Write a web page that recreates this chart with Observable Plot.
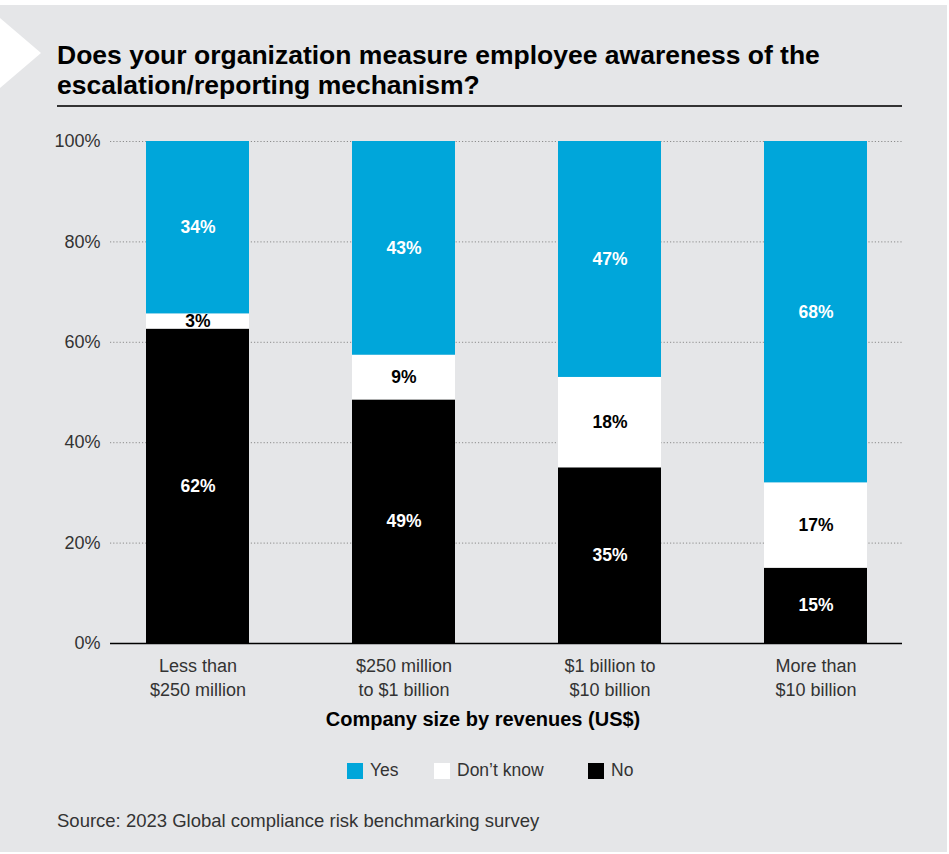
<!DOCTYPE html>
<html>
<head>
<meta charset="utf-8">
<script src="https://cdn.jsdelivr.net/npm/d3@7"></script>
<script src="https://cdn.jsdelivr.net/npm/@observablehq/plot@0.6"></script>
<style>
  html, body { margin: 0; padding: 0; background: #ffffff; }
  body { width: 949px; height: 854px; position: relative; overflow: hidden; font-family: "Liberation Sans", Arial, Helvetica, sans-serif; }
  #panel { position: absolute; left: 0; top: 5px; width: 947px; height: 847px; background: #e5e6e8; }
  #notch { position: absolute; left: 0; top: 18px; width: 41px; height: 70px; background: #ffffff; clip-path: polygon(0 0, 100% 50%, 0 100%); }
  #title { position: absolute; left: 57px; top: 40px; width: 880px; font-size: 26.5px; font-weight: bold; line-height: 30px; color: #000; }
  #rule { position: absolute; left: 57px; top: 105px; width: 845px; height: 2px; background: #333; }
  #chart { position: absolute; left: 0; top: 121px; }
  #xlabel { position: absolute; left: 233px; width: 500px; top: 708px; text-align: center; font-size: 20px; font-weight: bold; color: #000; }
  .item { position: absolute; top: 760px; display: flex; align-items: center; font-size: 17.5px; color: #333; white-space: nowrap; }
  .sw { display: inline-block; width: 16px; height: 16px; margin-right: 7px; }
  #source { position: absolute; left: 57px; top: 810px; font-size: 18.5px; color: #333; }
</style>
</head>
<body>
<div id="panel"></div>
<div id="notch"></div>
<div id="title">Does your organization measure employee awareness of the escalation/reporting mechanism?</div>
<div id="rule"></div>
<div id="chart"></div>
<div id="xlabel">Company size by revenues (US$)</div>
<div id="source">Source: 2023 Global compliance risk benchmarking survey</div>
<script>
// ---- data ----
const sizes = ["Less than\n$250 million", "$250 million\nto $1 billion", "$1 billion to\n$10 billion", "More than\n$10 billion"];
const responses = ["No", "Don’t know", "Yes"];
const noValues = [62, 49, 35, 15];
const dontKnowValues = [3, 9, 18, 17];
const yesValues = [34, 43, 47, 68];
const yTicks = [0, 0.2, 0.4, 0.6, 0.8, 1];
const legendLabels = ["Yes", "Don’t know", "No"];
const colors = {"Yes": "#00a6da", "Don’t know": "#ffffff", "No": "#000000"};

const seriesValues = [noValues, dontKnowValues, yesValues];
const data = [];
responses.forEach((r, i) => {
  sizes.forEach((s, j) => data.push({size: s, resp: r, value: seriesValues[i][j]}));
});

const stackOpts = {x: "size", y: "value", z: "resp", offset: "normalize"};

const chart = Plot.plot({
  width: 949,
  height: 592,
  marginTop: 20,
  marginBottom: 70,
  marginLeft: 110,
  marginRight: 47,
  style: {fontFamily: '"Liberation Sans", Arial, Helvetica, sans-serif', fontSize: "17px", color: "#333", background: "transparent"},
  x: {domain: sizes, paddingInner: 0.5, paddingOuter: 0.17, label: null},
  y: {domain: [0, 1], label: null},
  color: {domain: Object.keys(colors), range: Object.values(colors)},
  marks: [
    Plot.ruleY(yTicks.filter(d => d > 0), {stroke: "#8c8c8c", strokeWidth: 1, strokeDasharray: "1.2,2"}),
    Plot.barY(data, Plot.stackY({...stackOpts, fill: "resp"})),
    Plot.text(data, Plot.stackY({...stackOpts, text: d => d.resp === "Don’t know" ? null : d.value + "%", fill: "white", fontWeight: "bold", fontSize: 17.5})),
    Plot.text(data, Plot.stackY({...stackOpts, text: d => d.resp === "Don’t know" ? d.value + "%" : null, fill: "black", fontWeight: "bold", fontSize: 17.5})),
    Plot.ruleY([0], {stroke: "#000", strokeWidth: 1.5}),
    Plot.axisY({ticks: yTicks, tickSize: 0, tickPadding: 10, tickFormat: d => Math.round(d * 100) + "%", label: null, fill: "#333", fontSize: 18}),
    Plot.axisX({tickSize: 0, tickPadding: 12, label: null, lineHeight: 1.3, fill: "#333", fontSize: 18})
  ]
});
document.getElementById("chart").appendChild(chart);

const legendX = [347, 434, 588];
legendLabels.forEach((l, i) => {
  const item = document.createElement("span");
  item.className = "item";
  item.style.left = legendX[i] + "px";
  const sw = document.createElement("span");
  sw.className = "sw";
  sw.style.background = colors[l];
  const t = document.createElement("span");
  t.textContent = l;
  item.appendChild(sw);
  item.appendChild(t);
  document.body.appendChild(item);
});
</script>
</body>
</html>
